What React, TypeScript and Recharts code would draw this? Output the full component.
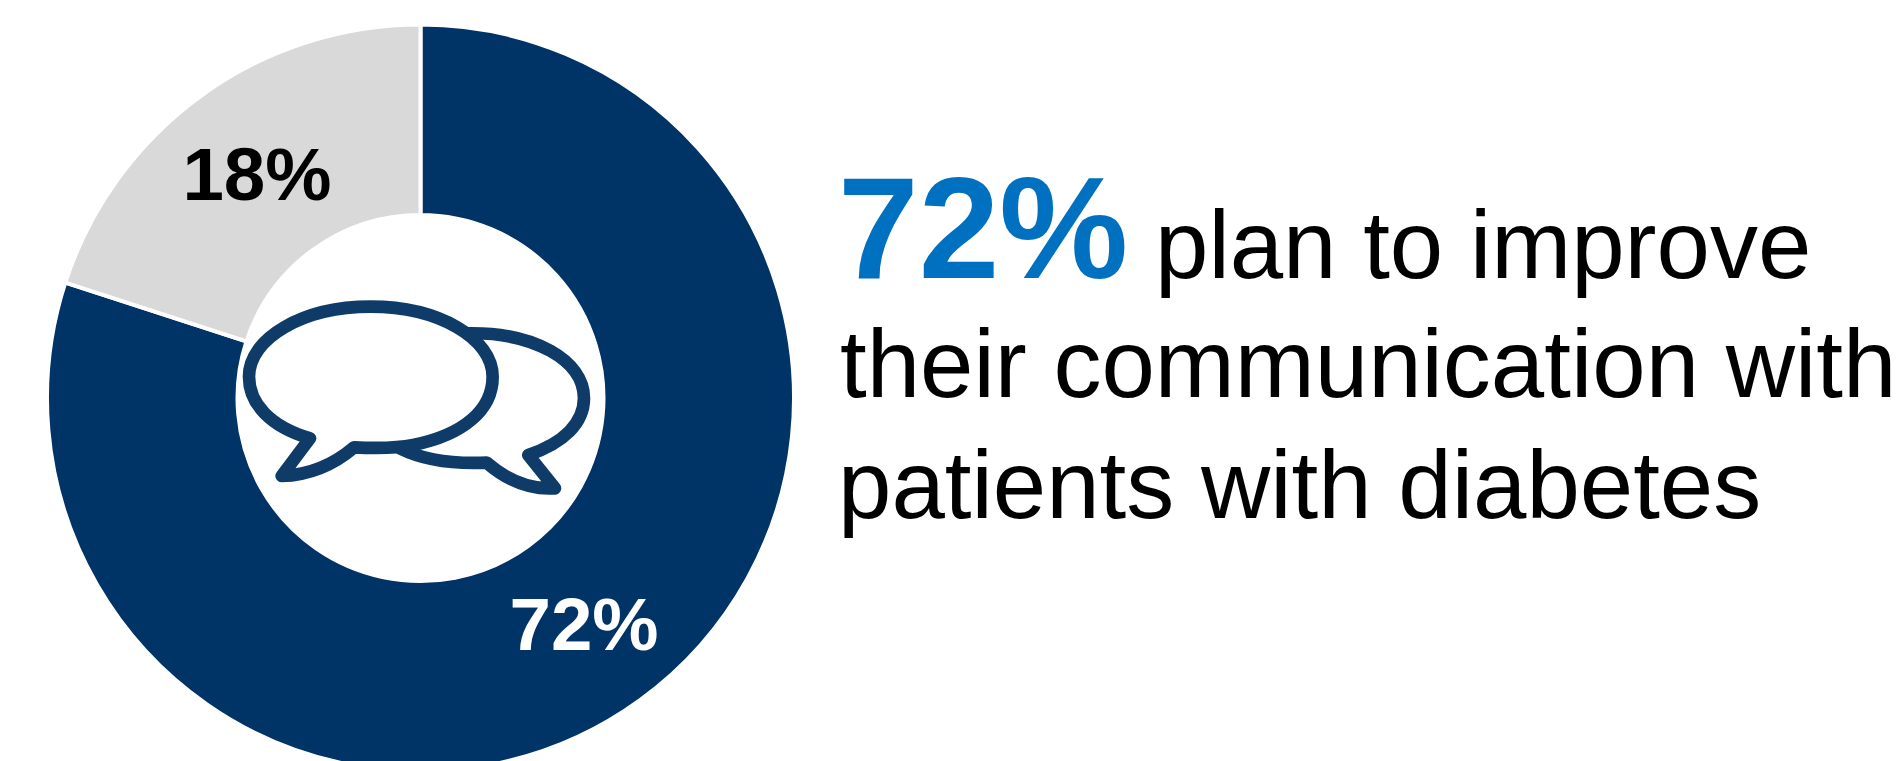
import React from "react";
import { Pie, PieChart, Cell } from "recharts";

// Survey responses shown in the donut
const categories = ["Plan to improve", "Other"];
const responseValues = [72, 18];
const sliceColors = ["#003366", "#d9d9d9"];
const labelColors = ["#ffffff", "#000000"];

// Headline beside the donut
const headlineStat = "72%";
const headlineLines = ["plan to improve", "their communication with", "patients with diabetes"];

const sliceData = categories.map((name, i) => ({ name, value: responseValues[i] }));

const FONT = "'Liberation Sans', Arial, sans-serif";
const RAD = Math.PI / 180;

// Percent label centred in the ring of its slice
const renderSliceLabel = (props: any) => {
  const { cx, cy, midAngle, innerRadius, outerRadius, index, value } = props;
  const r = (innerRadius + outerRadius) / 2;
  const x = cx + r * Math.cos(-midAngle * RAD);
  const y = cy + r * Math.sin(-midAngle * RAD);
  return (
    <text
      x={x}
      y={y}
      dy="0.36em"
      textAnchor="middle"
      fontFamily={FONT}
      fontWeight={700}
      fontSize={74.5}
      fill={labelColors[index]}
    >
      {value}%
    </text>
  );
};

// Overlapping speech bubbles in the donut hole
const BubbleIcon = () => (
  <g
    transform="translate(200 270) scale(0.3333)"
    stroke="#0f3b69"
    strokeWidth={38}
    strokeLinejoin="round"
    strokeLinecap="round"
  >
    <path
      fill="none"
      d="M 800 190 C 1000 185 1152 270 1152 385 C 1152 460 1090 520 985 555 L 1065 655 C 990 660 920 630 860 578 C 770 582 680 575 600 535"
    />
    <path
      fill="#ffffff"
      d="M 330 505 L 245 618 C 330 615 400 585 462 532 C 520 535 590 535 640 525 C 790 495 878 420 878 320 C 878 204 715 110 512 110 C 309 110 147 204 147 320 C 147 400 210 470 330 505 Z"
    />
  </g>
);

export default function App() {
  return (
    <div style={{ position: "absolute", left: 0, top: 0, width: 1901, height: 761, overflow: "hidden", background: "#ffffff" }}>
      <PieChart width={1901} height={761} margin={{ top: 0, right: 0, bottom: 0, left: 0 }}>
        <Pie
          data={sliceData}
          dataKey="value"
          nameKey="name"
          cx={420.5}
          cy={398}
          innerRadius={183}
          outerRadius={373.5}
          startAngle={90}
          endAngle={-270}
          stroke="#ffffff"
          strokeWidth={4}
          label={renderSliceLabel}
          labelLine={false}
          isAnimationActive={false}
        >
          {sliceData.map((d, i) => (
            <Cell key={d.name} fill={sliceColors[i]} />
          ))}
        </Pie>
        <BubbleIcon />
        <text x={838} y={277.5} fontFamily={FONT} fontWeight={700} fontSize={145} fill="#0070c0">
          {headlineStat}
        </text>
        <text x={1155} y={277.5} fontFamily={FONT} fontSize={96} fill="#000000">
          {headlineLines[0]}
        </text>
        <text x={840} y={396.5} fontFamily={FONT} fontSize={96} fill="#000000">
          {headlineLines[1]}
        </text>
        <text x={838} y={517.5} fontFamily={FONT} fontSize={96} fill="#000000">
          {headlineLines[2]}
        </text>
      </PieChart>
    </div>
  );
}
